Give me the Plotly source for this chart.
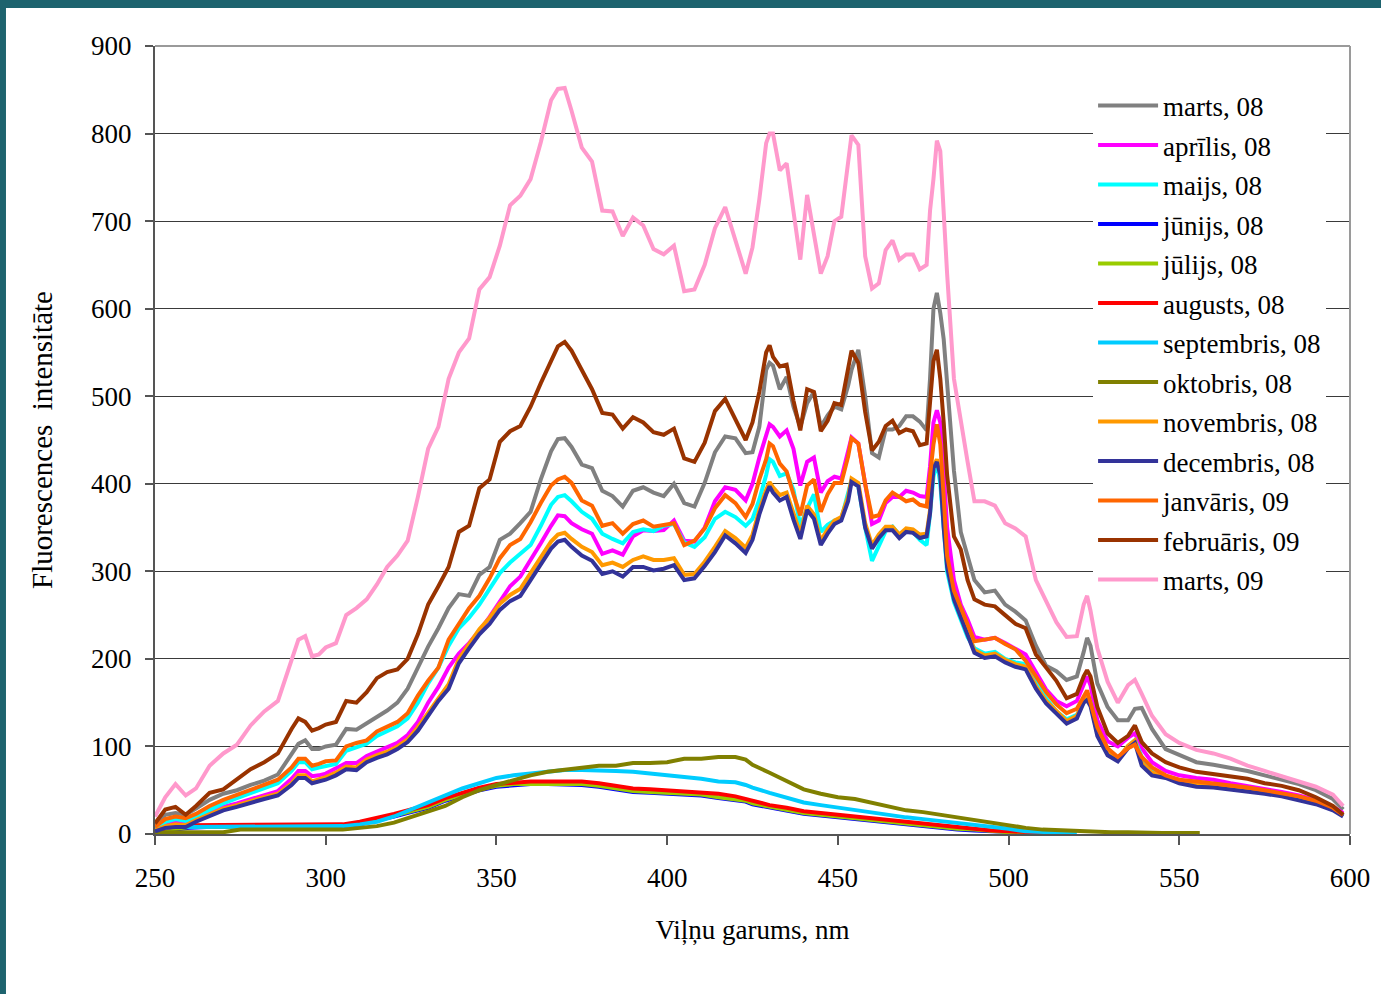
import plotly.graph_objects as go

# Wavelength grid (nm) for the strongly fluorescing spectra
WAVELENGTH = [
    250, 253, 256, 259, 262, 266, 270, 274, 278, 282, 286, 290, 292, 294, 296, 298, 300,
    303, 306, 309, 312, 315, 318, 321, 324, 327, 330, 333, 336, 339, 342, 345, 348, 351, 354, 357, 360,
    363, 366, 368, 370, 372, 375, 378, 381, 384, 387, 390, 393, 396, 399, 402, 405, 408, 411, 414, 417, 420, 423,
    425, 427, 429, 430, 431, 433, 435, 437, 439, 441, 443, 445, 447, 449, 451, 453, 454, 456, 458, 460, 462, 464,
    466, 468, 470, 472, 474, 476, 477, 478, 479, 480, 481, 482, 484,
    486, 488, 490, 493, 496, 499, 502, 505, 508, 511, 514, 517, 520, 522, 523, 524, 526, 529, 532, 535, 537, 539,
    542, 546, 550,
    555, 560, 565, 570, 575, 580, 585, 590, 595, 598,
]

MARTS_08 = [
    8, 22, 24, 22, 29, 39, 46, 50, 56, 61, 68, 92, 103, 107, 97, 97, 100,
    102, 120, 119, 126, 134, 141, 150, 166, 190, 214, 235, 258, 274, 272, 296, 305, 336, 343, 355, 368,
    405, 437, 451, 452, 442, 422, 418, 392, 386, 374, 392, 396, 390, 386, 400, 378, 374, 401, 436, 454, 452, 435,
    436, 465, 530, 538, 535, 508, 522, 488, 465, 492, 505, 465, 478, 488, 485, 512, 530, 553, 500, 435, 430, 462,
    462, 466, 477, 477, 471, 461, 520, 600, 618, 595, 565, 515, 415,
    345, 318, 290, 276, 278, 262, 254, 244, 215, 192, 186, 176, 180, 208, 224, 215, 172, 145, 130, 130, 143, 144,
    120, 97, 90,
    82, 79, 76, 72, 67, 62, 57, 50, 40, 28,
]

APRILIS_08 = [
    6, 12, 14, 12, 18, 25, 31, 35, 40, 45, 49, 63, 72, 72, 66, 67, 69,
    75, 81, 81, 89, 94, 99, 104, 113, 128, 150, 168, 190, 206, 218, 232, 248, 266, 283, 294, 312,
    332, 352, 364, 363, 355, 348, 343, 320, 324, 319, 340, 347, 346, 347, 358, 335, 334, 350, 380, 396, 393, 381,
    400, 430, 453, 468, 465, 454, 461, 440, 398, 425, 430, 390, 403, 408, 406, 438, 453, 446, 397, 354, 358, 378,
    385, 385, 392, 390, 386, 385, 420, 470, 484, 470, 415, 350, 290,
    262, 245, 225, 222, 224, 218, 212, 205, 185, 165, 152, 146, 152, 172, 180, 170, 130, 106, 100, 110, 115, 98,
    82, 72, 67,
    64, 62, 58, 55, 52, 48, 44, 39, 31, 24,
]

MAIJS_08 = [
    6, 14, 17, 15, 20, 28, 35, 41, 47, 52, 58, 72, 82, 82, 74, 76, 78,
    80, 95, 99, 103, 112, 118, 123, 132, 150, 172, 190, 215, 235, 247, 262, 280, 298, 310, 320, 330,
    352, 376, 385, 387, 380, 368, 360, 343, 337, 332, 345, 348, 346, 352, 354, 333, 328, 339, 360, 368, 362, 352,
    360, 382, 410, 428, 425, 409, 412, 393, 352, 372, 388, 345, 353, 358, 360, 390, 404, 397, 350, 312, 330, 346,
    351, 342, 345, 345, 336, 330, 366, 408, 426, 400, 350, 300, 265,
    245, 225, 212, 206, 208, 200, 196, 194, 175, 155, 140, 131, 136, 152, 158, 150, 115, 94, 86, 100, 107, 88,
    72, 65, 60,
    57, 55, 53, 51, 48, 45, 41, 36, 29, 21,
]

NOVEMBRIS_08 = [
    4, 9, 11, 10, 16, 23, 29, 33, 38, 42, 46, 58, 67, 67, 60, 62, 65,
    70, 77, 76, 85, 90, 94, 100, 108, 122, 139, 156, 171, 200, 218, 234, 247, 263, 273, 280, 298,
    316, 334, 342, 344, 337, 328, 322, 307, 310, 305, 313, 317, 313, 313, 315, 296, 297, 311, 328, 346, 338, 327,
    342, 370, 393, 402, 396, 387, 390, 365, 343, 375, 365, 335, 348, 358, 362, 385, 406, 401, 355, 330, 342, 351,
    351, 342, 349, 348, 342, 343, 370, 420, 428, 413, 354, 309, 272,
    251, 231, 210, 204, 206, 199, 194, 191, 169, 152, 140, 129, 135, 153, 156, 149, 115, 93, 86, 101, 107, 81,
    70, 66, 60,
    56, 55, 53, 51, 48, 45, 41, 36, 29, 21,
]

DECEMBRIS_08 = [
    3, 7, 8, 8, 14, 21, 27, 31, 36, 40, 44, 56, 64, 64, 58, 60, 62,
    67, 74, 73, 82, 87, 91, 97, 105, 118, 135, 152, 166, 195, 212, 228, 240, 256, 266, 272, 290,
    308, 326, 334, 336, 328, 318, 312, 297, 300, 294, 305, 305, 301, 303, 307, 290, 292, 306, 322, 341, 332, 321,
    336, 365, 388, 397, 390, 381, 385, 359, 337, 370, 360, 330, 343, 354, 358, 380, 402, 397, 350, 326, 338, 347,
    347, 338, 345, 344, 338, 340, 366, 418, 425, 410, 350, 305, 268,
    248, 228, 207, 201, 203, 196, 191, 188, 166, 149, 137, 126, 132, 150, 153, 146, 112, 90, 83, 98, 104, 78,
    67, 64, 58,
    54, 53, 51, 49, 46, 43, 39, 34, 27, 20,
]

JANVARIS_09 = [
    8, 17, 20, 18, 23, 32, 39, 45, 51, 56, 62, 76, 86, 86, 78, 80, 83,
    84, 100, 104, 107, 117, 123, 128, 138, 158, 175, 190, 222, 240, 258, 272, 292, 315, 330, 337, 356,
    378, 398, 405, 408, 401, 381, 375, 352, 355, 343, 354, 358, 351, 353, 355, 330, 335, 349, 372, 387, 378, 362,
    377, 405, 428, 446, 443, 423, 414, 388, 364, 398, 405, 368, 388, 401, 401, 431, 452, 446, 400, 362, 364, 381,
    390, 385, 380, 382, 376, 374, 408, 445, 468, 445, 385, 318, 278,
    258, 238, 220, 222, 224, 217, 211, 198, 180, 162, 148, 138, 143, 158, 164, 150, 122, 98, 88, 98, 102, 88,
    76, 67, 62,
    60, 58, 56, 53, 50, 47, 43, 38, 30, 22,
]

FEBRUARIS_09 = [
    12, 28, 31, 22, 32, 47, 51, 62, 74, 82, 92, 120, 132, 128, 118, 121, 125,
    128, 152, 150, 162, 178, 185, 188, 200, 228, 262, 283, 305, 345, 352, 395, 405, 448, 460, 466, 488,
    515, 540, 557, 562, 552, 530, 508, 481, 479, 463, 476, 470, 459, 456, 463, 429, 425, 447, 483, 497, 474, 450,
    470, 505, 550, 558, 545, 534, 536, 495, 461, 508, 505, 460, 472, 492, 490, 535, 552, 538, 482, 438, 448, 466,
    472, 458, 462, 460, 444, 446, 499, 540, 553, 520, 470, 410, 340,
    325, 290, 268, 262, 260, 250, 240, 235, 205, 190, 175, 155, 160, 180, 187, 180, 145, 115, 104, 112, 124, 105,
    92, 82, 76,
    71, 68, 66, 63, 58, 55, 50, 42, 32, 22,
]

MARTS_09 = [
    20, 42, 57, 44, 52, 78, 92, 102, 124, 140, 152, 200, 222, 226, 203, 205, 213,
    218, 250, 258, 268, 285, 305, 318, 335, 385, 440, 465, 520, 550, 566, 622, 636, 672, 718, 729, 748,
    790, 838, 851, 852, 826, 784, 768, 712, 711, 683, 704, 695, 668, 662, 672, 620, 622, 650, 692, 716, 678, 640,
    670, 725, 789, 800, 800, 758, 766, 712, 656, 730, 685, 640, 660, 700, 705, 762, 798, 787, 660, 623, 629, 667,
    678, 656, 662, 662, 645, 650, 712, 748, 792, 780, 705, 640, 520,
    470, 425, 380, 380, 375, 355, 349, 340, 290, 265, 242, 225, 226, 262, 272, 255, 212, 174, 150, 170, 176, 160,
    135, 114, 104,
    96, 92, 86, 78, 72, 66, 60, 54, 45, 32,
]

# Coarser wavelength grid (nm) for the weakly fluorescing summer/autumn spectra
WAVELENGTH_LOW = [
    250, 255, 260, 265, 270, 275, 280, 285, 290, 295,
    300, 305, 310, 315, 320, 325, 330, 335, 340, 345,
    350, 355, 360, 365, 370, 375, 380, 385, 390, 395,
    400, 405, 410, 415, 420, 423, 425, 430, 435, 440,
    445, 450, 455, 460, 465, 470, 475, 480, 485, 490,
    495, 500, 505, 510, 515, 520, 525, 530, 535, 540,
    545, 550, 556,
]

JUNIJS_08 = [
    2, 5, 7, 8, 8, 8, 8, 8, 8, 8,
    8, 9, 11, 15, 20, 25, 30, 38, 44, 50,
    54, 56, 57, 57, 57, 56, 54, 51, 48, 47,
    46, 45, 44, 41, 39, 37, 34, 30, 27, 23,
    21, 19, 17, 14, 12, 10, 8, 7, 5, 4,
    3, 2, 1, 0, 0,
]

JULIJS_08 = [
    3, 6, 8, 8, 8, 8, 8, 9, 9, 9,
    9, 10, 12, 16, 21, 26, 31, 39, 45, 51,
    55, 57, 57, 57, 57, 57, 55, 52, 49, 48,
    47, 46, 45, 42, 40, 38, 35, 31, 28, 24,
    22, 20, 18, 15, 13, 11, 9, 8, 6, 5,
    3, 2, 1, 1, 0,
]

AUGUSTS_08 = [
    4, 8, 10, 10, 10, 10, 10, 10, 10, 10,
    10, 11, 14, 18, 23, 28, 33, 41, 47, 53,
    57, 59, 60, 60, 60, 60, 58, 55, 52, 51,
    50, 49, 48, 46, 43, 40, 37, 33, 30, 26,
    24, 22, 20, 17, 15, 13, 11, 9, 7, 6,
    4, 3, 2, 1, 1,
]

SEPTEMBRIS_08 = [
    6, 8, 8, 8, 8, 8, 8, 8, 8, 8,
    8, 9, 11, 14, 20, 28, 35, 44, 52, 58,
    64, 67, 69, 71, 73, 73, 73, 72, 71, 69,
    67, 66, 63, 60, 59, 56, 53, 47, 41, 36,
    33, 30, 28, 25, 22, 19, 17, 15, 13, 11,
    8, 6, 3, 2, 1, 1,
]

OKTOBRIS_08 = [
    2, 2, 2, 2, 2, 5, 5, 5, 5, 5,
    5, 5, 7, 9, 13, 19, 26, 32, 42, 50,
    56, 62, 67, 71, 73, 75, 78, 78, 81, 81,
    82, 86, 86, 88, 88, 85, 79, 70, 60, 51,
    46, 42, 40, 36, 31, 27, 25, 22, 19, 15,
    12, 9, 7, 5, 4, 3, 3, 2, 2, 1,
    1, 1, 1,
]

SERIES = [
    ("marts, 08", WAVELENGTH, MARTS_08, "#808080"),
    ("aprīlis, 08", WAVELENGTH, APRILIS_08, "#FF00FF"),
    ("maijs, 08", WAVELENGTH, MAIJS_08, "#00FFFF"),
    ("jūnijs, 08", WAVELENGTH_LOW, JUNIJS_08, "#0000FF"),
    ("jūlijs, 08", WAVELENGTH_LOW, JULIJS_08, "#99CC00"),
    ("augusts, 08", WAVELENGTH_LOW, AUGUSTS_08, "#FF0000"),
    ("septembris, 08", WAVELENGTH_LOW, SEPTEMBRIS_08, "#00CCFF"),
    ("oktobris, 08", WAVELENGTH_LOW, OKTOBRIS_08, "#808000"),
    ("novembris, 08", WAVELENGTH, NOVEMBRIS_08, "#FF9900"),
    ("decembris, 08", WAVELENGTH, DECEMBRIS_08, "#333399"),
    ("janvāris, 09", WAVELENGTH, JANVARIS_09, "#FF6600"),
    ("februāris, 09", WAVELENGTH, FEBRUARIS_09, "#993300"),
    ("marts, 09", WAVELENGTH, MARTS_09, "#FF99CC"),
]

FONT = "Liberation Serif, Times New Roman, serif"

fig = go.Figure()
for i, (name, xs, ys, color) in enumerate(SERIES):
    fig.add_trace(go.Scatter(
        x=xs[:len(ys)], y=ys, name=name, mode="lines",
        line=dict(color=color, width=4),
        legendgroup=f"g{i}",
    ))

fig.update_layout(
    width=1381, height=994,
    margin=dict(l=155, r=31, t=46, b=160),
    paper_bgcolor="white", plot_bgcolor="white",
    font=dict(family=FONT, size=27, color="black"),
    legend=dict(
        x=0.785, y=0.955, xanchor="left", yanchor="top",
        bgcolor="white", borderwidth=0,
        font=dict(family=FONT, size=27, color="black"),
        tracegroupgap=1.4, itemwidth=60,
    ),
    xaxis=dict(
        range=[250, 600], dtick=50, tick0=250,
        showgrid=False, zeroline=False,
        showline=True, linecolor="#555555", linewidth=2,
        ticks="outside", ticklen=9, tickwidth=1.5, tickcolor="#555555",
        ticklabelstandoff=10,
        title=dict(text="Viļņu garums, nm", standoff=28,
                   font=dict(family=FONT, size=27)),
    ),
    yaxis=dict(
        range=[0, 900], dtick=100, tick0=0,
        showgrid=True, gridcolor="#3a3a3a", gridwidth=1.2,
        zeroline=False,
        showline=True, linecolor="#555555", linewidth=2,
        ticks="outside", ticklen=8, tickwidth=1.5, tickcolor="#555555",
        ticklabelstandoff=8,
        title=dict(text="Fluorescences  intensitāte", standoff=30,
                   font=dict(family=FONT, size=29)),
    ),
    shapes=[
        # top and right frame of the plot area
        dict(type="line", xref="paper", yref="paper", x0=0, x1=1, y0=1, y1=1,
             line=dict(color="#9a9a9a", width=2)),
        dict(type="line", xref="paper", yref="paper", x0=1, x1=1, y0=0, y1=1,
             line=dict(color="#9a9a9a", width=2)),
        # slide frame strips along the top and left edges
        dict(type="rect", xref="paper", yref="paper",
             x0=-0.14, x1=1.03, y0=1.0482, y1=1.07,
             fillcolor="#1d636e", line=dict(width=0), layer="above"),
        dict(type="rect", xref="paper", yref="paper",
             x0=-0.14, x1=-0.1247, y0=-0.21, y1=1.07,
             fillcolor="#1d636e", line=dict(width=0), layer="above"),
    ],
)

fig.write_html("out.html")
